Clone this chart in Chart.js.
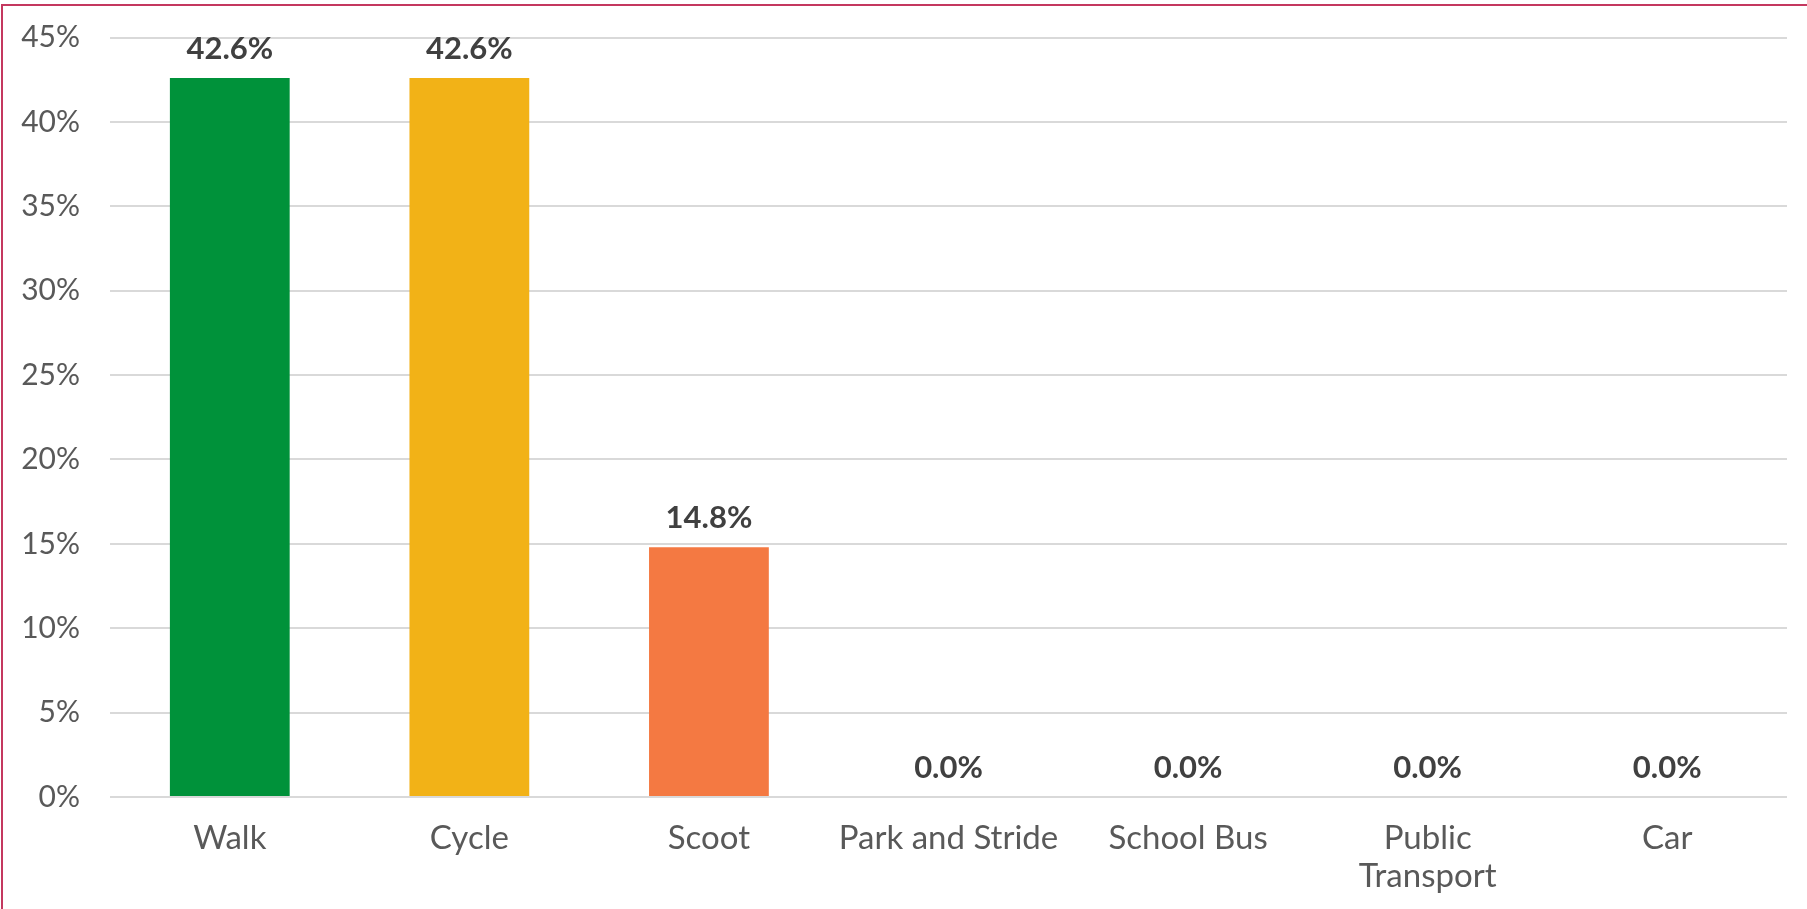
<!DOCTYPE html>
<html>
<head>
<meta charset="utf-8">
<script src="https://cdn.jsdelivr.net/npm/chart.js@4.4.1/dist/chart.umd.min.js"></script>
<style>
  html, body { margin: 0; padding: 0; background: #fff; overflow: hidden; }
  #wrap { position: absolute; left: 0; top: 0; width: 1807px; height: 909px; }
  #frame { position: absolute; left: 1px; top: 4px; width: 3000px; height: 3000px; border: 2px solid #c4385f; box-sizing: border-box; pointer-events: none; }
  canvas { position: absolute; left: 0; top: 0; }
</style>
</head>
<body>
<div id="wrap">
  <canvas id="c" width="1807" height="909"></canvas>
  <div id="frame"></div>
</div>
<script>
const categories = ['Walk', 'Cycle', 'Scoot', 'Park and Stride', 'School Bus', ['Public', 'Transport'], 'Car'];
const values = [42.6, 42.6, 14.8, 0.0, 0.0, 0.0, 0.0];
const barColors = ['#00923a', '#f2b217', '#f47942', '#f47942', '#f47942', '#f47942', '#f47942'];
const yTicks = [0, 5, 10, 15, 20, 25, 30, 35, 40, 45];

const FONT = "Lato, 'Open Sans', sans-serif";

const dataLabels = {
  id: 'dataLabels',
  afterDatasetsDraw(chart) {
    const ctx = chart.ctx;
    const meta = chart.getDatasetMeta(0);
    ctx.save();
    ctx.font = "bold 31px " + FONT;
    ctx.fillStyle = '#404040';
    ctx.textAlign = 'center';
    ctx.textBaseline = 'alphabetic';
    meta.data.forEach((bar, i) => {
      ctx.fillText(values[i].toFixed(1) + '%', bar.x, bar.y - 19);
    });
    ctx.restore();
  }
};

new Chart(document.getElementById('c'), {
  type: 'bar',
  data: {
    labels: categories,
    datasets: [{
      data: values,
      backgroundColor: barColors,
      borderWidth: 0,
      barPercentage: 0.5,
      categoryPercentage: 1.0
    }]
  },
  options: {
    responsive: false,
    animation: false,
    devicePixelRatio: 1,
    layout: { padding: { top: 0, right: 20, left: 0, bottom: 0 } },
    plugins: { legend: { display: false }, tooltip: { enabled: false } },
    scales: {
      x: {
        grid: { display: false, drawTicks: false },
        border: { display: false },
        ticks: {
          color: '#595959',
          font: { family: FONT, size: 33, lineHeight: 1.15 },
          padding: 22,
          maxRotation: 0,
          autoSkip: false
        },
        afterFit(s) { s.height = 112; }
      },
      y: {
        min: 0,
        max: 45,
        afterBuildTicks(s) { s.ticks = yTicks.map(v => ({ value: v })); },
        grid: { color: '#d9d9d9', lineWidth: 2, drawTicks: false },
        border: { display: false },
        ticks: {
          color: '#595959',
          font: { family: FONT, size: 30, lineHeight: 0.5 },
          padding: 30,
          callback: v => v + '%'
        },
        afterFit(s) { s.width = 110; }
      }
    }
  },
  plugins: [dataLabels]
});
</script>
</body>
</html>
